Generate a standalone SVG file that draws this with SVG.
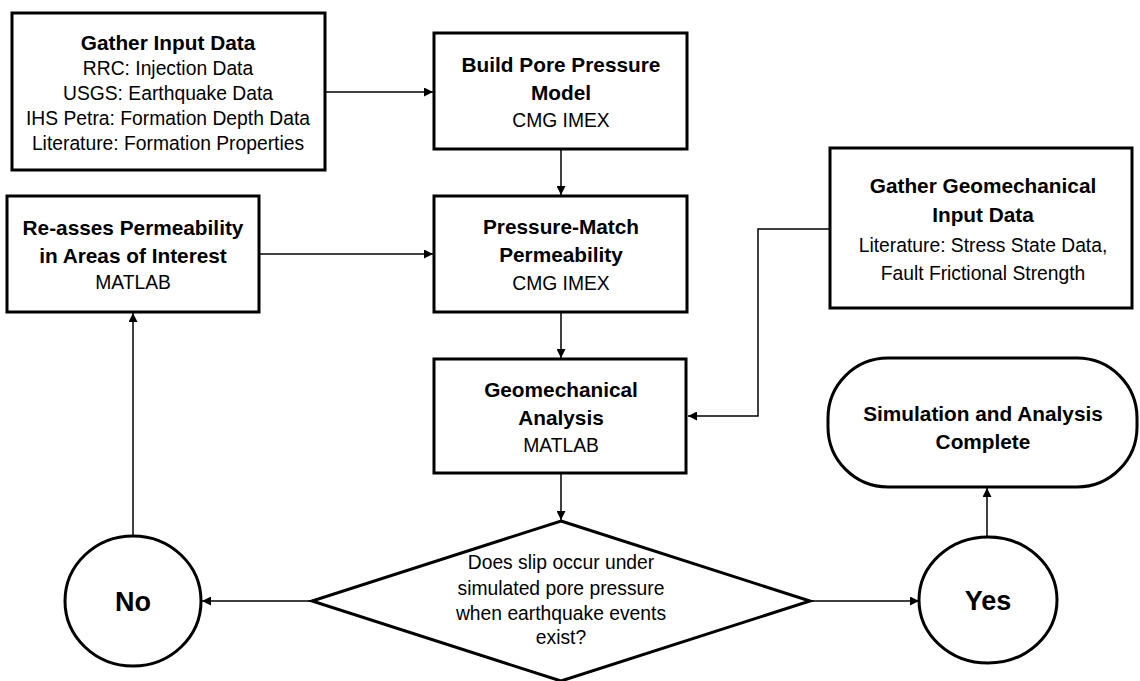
<svg xmlns="http://www.w3.org/2000/svg" width="1140" height="681" viewBox="0 0 1140 681">
<style>
.box{fill:#fff;stroke:#000;stroke-width:3}
.con{fill:none;stroke:#000;stroke-width:1.5}
.t{font-family:"Liberation Sans",Arial,sans-serif;font-size:19.3px;fill:#000;text-anchor:middle}
.b{font-weight:bold;font-size:20.8px}
.big{font-weight:bold;font-size:27px}
</style>
<defs>
<marker id="ah" viewBox="0 0 10 10" refX="10" refY="5" markerWidth="9" markerHeight="9" markerUnits="userSpaceOnUse" orient="auto">
<path d="M0,0 L10,5 L0,10 Z" fill="#000"/>
</marker>
</defs>
<rect width="1140" height="681" fill="#fff"/>
<g id="connectors">
<line class="con" x1="325" y1="92" x2="433" y2="92" marker-end="url(#ah)"/>
<line class="con" x1="561" y1="149" x2="561" y2="195" marker-end="url(#ah)"/>
<line class="con" x1="259" y1="254" x2="433" y2="254" marker-end="url(#ah)"/>
<line class="con" x1="561" y1="312" x2="561" y2="358" marker-end="url(#ah)"/>
<polyline class="con" points="830,229 758,229 758,416 688,416" marker-end="url(#ah)"/>
<line class="con" x1="561" y1="473" x2="561" y2="520" marker-end="url(#ah)"/>
<line class="con" x1="312" y1="601" x2="202" y2="601" marker-end="url(#ah)"/>
<line class="con" x1="133" y1="536" x2="133" y2="313" marker-end="url(#ah)"/>
<line class="con" x1="810" y1="601" x2="919" y2="601" marker-end="url(#ah)"/>
<line class="con" x1="987" y1="537" x2="987" y2="488" marker-end="url(#ah)"/>
</g>
<g id="gather-input">
<rect class="box" x="12" y="13" width="313" height="157"/>
<text class="t b" x="168" y="50">Gather Input Data</text>
<text class="t" x="168" y="75">RRC: Injection Data</text>
<text class="t" x="168" y="100">USGS: Earthquake Data</text>
<text class="t" x="168" y="125">IHS Petra: Formation Depth Data</text>
<text class="t" x="168" y="150">Literature: Formation Properties</text>
</g>
<g id="build-model">
<rect class="box" x="434" y="33" width="253" height="116"/>
<text class="t b" x="561" y="72">Build Pore Pressure</text>
<text class="t b" x="561" y="100">Model</text>
<text class="t" x="561" y="127">CMG IMEX</text>
</g>
<g id="pressure-match">
<rect class="box" x="434" y="196" width="253" height="116"/>
<text class="t b" x="561" y="234">Pressure-Match</text>
<text class="t b" x="561" y="262">Permeability</text>
<text class="t" x="561" y="290">CMG IMEX</text>
</g>
<g id="reassess">
<rect class="box" x="7" y="196" width="252" height="116"/>
<text class="t b" x="133" y="235">Re-asses Permeability</text>
<text class="t b" x="133" y="263">in Areas of Interest</text>
<text class="t" x="133" y="289">MATLAB</text>
</g>
<g id="gather-geomech">
<rect class="box" x="830" y="148" width="302" height="160"/>
<text class="t b" x="983" y="193">Gather Geomechanical</text>
<text class="t b" x="983" y="222">Input Data</text>
<text class="t" x="983" y="252">Literature: Stress State Data,</text>
<text class="t" x="983" y="280">Fault Frictional Strength</text>
</g>
<g id="geomech-analysis">
<rect class="box" x="434" y="359" width="252" height="114"/>
<text class="t b" x="561" y="397">Geomechanical</text>
<text class="t b" x="561" y="425">Analysis</text>
<text class="t" x="561" y="452">MATLAB</text>
</g>
<g id="decision">
<polygon class="box" points="561,521 810,601 561,681 312,601"/>
<text class="t" x="561" y="569">Does slip occur under</text>
<text class="t" x="561" y="595">simulated pore pressure</text>
<text class="t" x="561" y="620">when earthquake events</text>
<text class="t" x="561" y="644">exist?</text>
</g>
<g id="no">
<ellipse class="box" cx="133" cy="601" rx="68" ry="65"/>
<text class="t big" x="133" y="611">No</text>
</g>
<g id="yes">
<ellipse class="box" cx="988" cy="600" rx="69" ry="63"/>
<text class="t big" x="988" y="610">Yes</text>
</g>
<g id="complete">
<rect class="box" x="828" y="358" width="309" height="129" rx="60" ry="60"/>
<text class="t b" x="983" y="421">Simulation and Analysis</text>
<text class="t b" x="983" y="449">Complete</text>
</g>
</svg>
